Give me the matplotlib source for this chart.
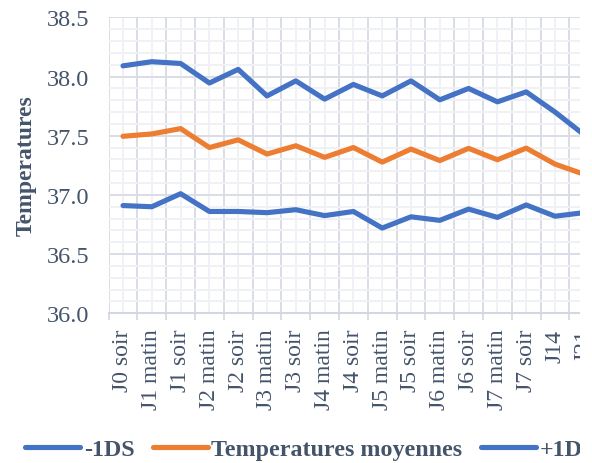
import matplotlib
matplotlib.use("Agg")
import matplotlib.pyplot as plt
from matplotlib.patches import Rectangle
from matplotlib.ticker import MultipleLocator, FixedLocator

categories = ["J0 soir", "J1 matin", "J1 soir", "J2 matin", "J2 soir", "J3 matin",
              "J3 soir", "J4 matin", "J4 soir", "J5 matin", "J5 soir", "J6 matin",
              "J6 soir", "J7 matin", "J7 soir", "J14", "J21"]
minus_1ds = [36.91, 36.90, 37.01, 36.86, 36.86, 36.85, 36.875, 36.825, 36.86, 36.72,
             36.815, 36.785, 36.88, 36.81, 36.915, 36.82, 36.85]
moyennes = [37.495, 37.515, 37.56, 37.40, 37.465, 37.345, 37.415, 37.317, 37.40, 37.277,
            37.387, 37.29, 37.393, 37.297, 37.395, 37.26, 37.175]
plus_1ds = [38.09, 38.125, 38.11, 37.945, 38.06, 37.836, 37.963, 37.809, 37.933, 37.836,
            37.963, 37.803, 37.899, 37.786, 37.87, 37.70, 37.51]

BLUE = "#4472C4"
ORANGE = "#ED7D31"
TEXT = "#44546A"
GRID_MAJ = "#D9DDE5"
GRID_MIN = "#EFF1F5"

plt.rcParams["font.family"] = ["Liberation Serif", "DejaVu Serif"]

W, H = 592, 464
fig = plt.figure(figsize=(W / 100, H / 100), dpi=100)
left_px, right_px = 108.6, 108.6 + 28.8 * 17.5
top_px, bot_px = 18.3, 314.3
ax = fig.add_axes([left_px / W, 1 - bot_px / H, (right_px - left_px) / W, (bot_px - top_px) / H])

x = list(range(len(categories)))
lw = 3.7
ax.plot(x, minus_1ds, color=BLUE, lw=lw, solid_capstyle="round", solid_joinstyle="round", label="-1DS", zorder=3)
ax.plot(x, moyennes, color=ORANGE, lw=lw, solid_capstyle="round", solid_joinstyle="round", label="Temperatures moyennes", zorder=3)
ax.plot(x, plus_1ds, color=BLUE, lw=lw, solid_capstyle="round", solid_joinstyle="round", label="+1DS", zorder=3)

ax.set_xlim(-0.5, 17)
ax.set_ylim(36.0, 38.5)

ax.set_xticks(x)
ax.set_xticklabels(categories, rotation=90, fontsize=17, color=TEXT)
ax.xaxis.set_minor_locator(FixedLocator([i - 0.5 for i in range(len(categories) + 1)]))
ax.tick_params(axis="x", which="major", length=0, pad=11)
ax.tick_params(axis="x", which="minor", length=5, width=1.4, color=GRID_MAJ)

ax.yaxis.set_major_locator(MultipleLocator(0.5))
ax.yaxis.set_minor_locator(MultipleLocator(0.1))
ax.set_yticks([36.0, 36.5, 37.0, 37.5, 38.0, 38.5])
ax.set_yticklabels(["36.0", "36.5", "37.0", "37.5", "38.0", "38.5"], fontsize=17.5, color=TEXT)
ax.tick_params(axis="y", which="both", length=0, pad=14)

ax.grid(which="major", axis="y", color=GRID_MAJ, lw=1.4, zorder=1)
ax.grid(which="minor", axis="y", color=GRID_MIN, lw=1.4, zorder=0.5)
ax.grid(which="minor", axis="x", color=GRID_MAJ, lw=1.4, zorder=1)
ax.grid(which="major", axis="x", color=GRID_MIN, lw=1.4, zorder=0.5)
ax.set_axisbelow(True)

for s in ["top", "right", "left"]:
    ax.spines[s].set_visible(False)
ax.spines["bottom"].set_color("#D3D7DF")
ax.spines["bottom"].set_linewidth(1.5)

fig.text(26 / W, 1 - 166 / H, "Temperatures", rotation=90, ha="center", va="center",
         fontsize=17, fontweight="bold", color=TEXT)

leg = fig.legend(loc="center left", bbox_to_anchor=(25 / W, 14 / H), ncol=3, frameon=False,
                 borderpad=0, borderaxespad=0, handlelength=2.3, handletextpad=0.15,
                 columnspacing=0.75, prop={"size": 17.3, "weight": "bold"})
for t in leg.get_texts():
    t.set_color(TEXT)

# white band: the whole chart is cut off on the right
fig.add_artist(Rectangle((579.5 / W, 0), 20 / W, 1, transform=fig.transFigure,
                         facecolor="white", edgecolor="none", zorder=20))

fig.savefig("out.png", dpi=100)
